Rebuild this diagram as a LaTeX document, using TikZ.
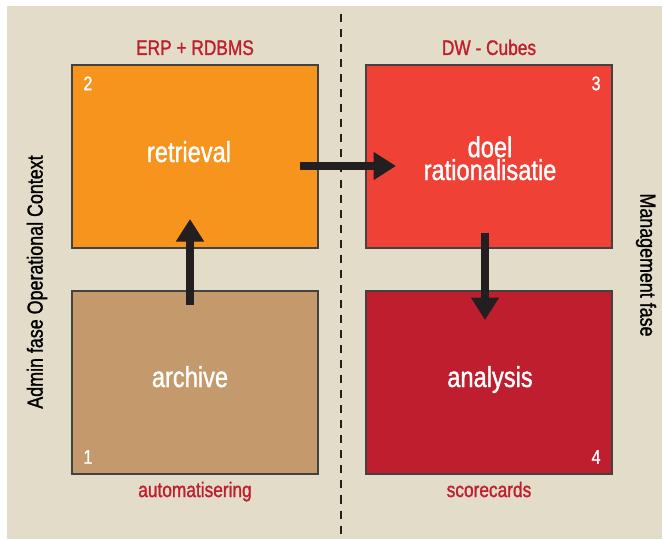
\documentclass[tikz,border=0pt]{standalone}
\usepackage{fontspec}
\setmainfont{Liberation Sans}[FakeStretch=0.82, FakeBold=1.2]
\usetikzlibrary{arrows.meta}

\definecolor{bgbeige}{HTML}{E3DCC9}
\definecolor{boxorange}{HTML}{F7941D}
\definecolor{boxred}{HTML}{EF4136}
\definecolor{boxbrown}{HTML}{C49A6C}
\definecolor{boxdarkred}{HTML}{BE1E2D}
\definecolor{titlered}{HTML}{BE1E2D}
\definecolor{arrowgray}{HTML}{231F20}

\tikzset{
	phasebox/.style={draw=arrowgray!85, line width=0.9pt, minimum width=6.15cm, minimum height=4.575cm, inner sep=0pt, outer sep=0pt},
	boxtext/.style={text=white, align=center, anchor=base, inner sep=0pt, font=\fontsize{20.5}{16.3}\selectfont},
	boxnum/.style={text=white, font=\fontsize{14}{15}\selectfont, inner sep=0pt},
	title/.style={text=titlered, anchor=base, inner sep=0pt, font=\fontsize{15}{16}\selectfont},
	sidelabel/.style={text=black, font=\fontsize{15.5}{16}\selectfont},
	flow/.style={draw=arrowgray, line width=5.7pt, -{Triangle[width=19pt, length=16pt]}}
}

\begin{document}
\begin{tikzpicture}[x=0.025cm, y=-0.025cm]
	\useasboundingbox (0, 0) rectangle (662, 539);

	%% background
	\fill[bgbeige] (7, 6) rectangle (662, 539);

	%% phase split
	\draw[arrowgray, line width=1.9pt, dash pattern=on 5.7pt off 5pt] (341, 14) -- (341, 534);

	%% boxes
	\node[phasebox, fill=boxorange] (retrieval) at (195, 156.5) {};
	\node[phasebox, fill=boxred] (doel) at (489, 156.5) {};
	\node[phasebox, fill=boxbrown] (archive) at (195, 382.5) {};
	\node[phasebox, fill=boxdarkred] (analysis) at (489, 382.5) {};

	%% box texts
	\node[boxtext] (retrievaltxt) at (189, 162) {retrieval};
	\node[boxtext] (doeltxt) at (490, 180) {doel\\rationalisatie};
	\node[boxtext] (archivetxt) at (190, 387) {archive};
	\node[boxtext] (analysistxt) at (490, 387) {analysis};

	%% box numbers
	\node[boxnum, anchor=north west] (num2) at ([shift={(0.28cm, -0.28cm)}]retrieval.north west) {2};
	\node[boxnum, anchor=north east] (num3) at ([shift={(-0.28cm, -0.28cm)}]doel.north east) {3};
	\node[boxnum, anchor=south west] (num1) at ([shift={(0.28cm, 0.25cm)}]archive.south west) {1};
	\node[boxnum, anchor=south east] (num4) at ([shift={(-0.28cm, 0.25cm)}]analysis.south east) {4};

	%% titles
	\node[title] (erp) at ([yshift=0.25cm]retrieval.north) {ERP + RDBMS};
	\node[title] (dw) at ([yshift=0.25cm]doel.north) {DW - Cubes};
	\node[title] (auto) at ([yshift=-0.575cm]archive.south) {automatisering};
	\node[title] (score) at ([yshift=-0.575cm]analysis.south) {scorecards};

	%% side labels
	\node[sidelabel, rotate=90] (admin) at (37, 282) {Admin fase Operational Context};
	\node[sidelabel, rotate=-90] (mgmt) at (646, 265) {Management fase};

	%% flow arrows
	\coordinate (upstart) at (190, 305);
	\coordinate (upend) at (190, 219);
	\coordinate (rightstart) at (300, 166);
	\coordinate (rightend) at (396, 166);
	\coordinate (downstart) at (485, 233);
	\coordinate (downend) at (485, 320);

	\draw[flow] (upstart) -- (upend);
	\draw[flow] (rightstart) -- (rightend);
	\draw[flow] (downstart) -- (downend);
\end{tikzpicture}
\end{document}
